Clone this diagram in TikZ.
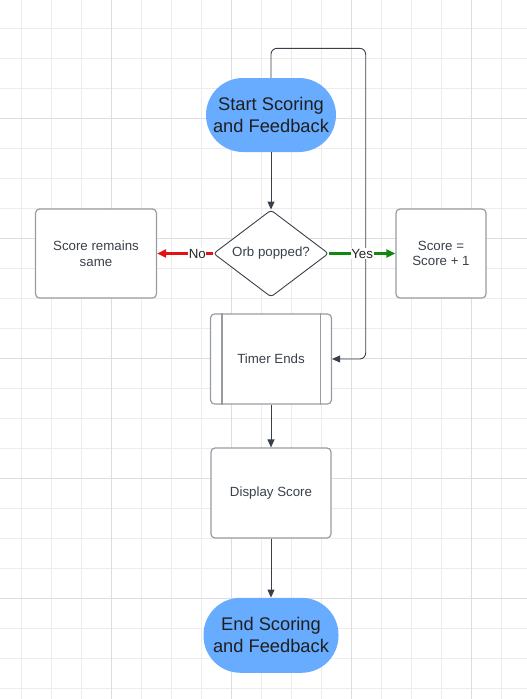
\documentclass[tikz,border=0pt]{standalone}
\usepackage{fontspec}
\setmainfont{Liberation Sans}
\usetikzlibrary{shapes.geometric,arrows.meta}
\definecolor{termblue}{RGB}{104,172,255}
\definecolor{inkgray}{RGB}{58,64,74}
\definecolor{edgegray}{RGB}{152,156,162}
\definecolor{gridlight}{RGB}{236,236,236}
\definecolor{griddark}{RGB}{222,222,222}
\definecolor{nored}{RGB}{226,18,18}
\definecolor{yesgreen}{RGB}{18,136,18}
\tikzset{
  term/.style={rectangle,rounded corners=37pt,fill=termblue,minimum width=130pt,
    minimum height=74pt,align=center,text=black!88,font=\fontsize{18.3}{22}\selectfont},
  box/.style={rectangle,rounded corners=4pt,draw=edgegray,line width=1.2pt,fill=white,
    minimum width=121pt,minimum height=89pt,align=center,text=inkgray,
    font=\fontsize{13.3}{15.5}\selectfont},
  decide/.style={diamond,aspect=1.32,inner sep=0pt,minimum width=115pt,minimum height=87pt,
    draw=inkgray,line width=0.9pt,rounded corners=3pt,fill=white,text=inkgray,
    font=\fontsize{13.3}{15.5}\selectfont},
  conn/.style={draw=inkgray,line width=0.9pt,-{Triangle[length=8pt,width=7pt]}},
  answer/.style={line width=2.2pt,-{Triangle[length=9pt,width=8pt]}},
  lbl/.style={fill=white,inner sep=0.6pt,text=black!85,font=\fontsize{13.3}{15.5}\selectfont}
}
\begin{document}
\begin{tikzpicture}[x=1pt,y=-1pt]
  \useasboundingbox (0,0) rectangle (527,699);
  \foreach \k in {0,...,17} \draw[gridlight,line width=1pt] (21.5+30*\k,0) -- (21.5+30*\k,699);
  \foreach \k in {-1,...,22} \draw[gridlight,line width=1pt] (0,28.3+30*\k) -- (527,28.3+30*\k);
  \foreach \k in {3,7,11,15} \draw[griddark,line width=1pt] (21.5+30*\k,0) -- (21.5+30*\k,699);
  \foreach \k in {3,7,11,15,19} \draw[griddark,line width=1pt] (0,28.3+30*\k) -- (527,28.3+30*\k);

  \node[term] (start) at (271,115) {Start Scoring\\and Feedback};
  \node[decide] (orb) at (271,253.5) {Orb popped?};
  \node[box] (same) at (96,253.5) {Score remains\\same};
  \node[box,minimum width=90pt] (plus) at (441,253.5) {Score =\\Score + 1};
  \node[box,minimum height=90pt] (timer) at (271,359) {Timer Ends};
  \draw[edgegray,line width=1.2pt] ([xshift=12pt]timer.north west) -- ([xshift=12pt]timer.south west);
  \draw[edgegray,line width=1.2pt] ([xshift=-12pt]timer.north east) -- ([xshift=-12pt]timer.south east);
  \node[box,minimum width=120pt,minimum height=90pt] (show) at (271,493) {Display Score};
  \node[term,minimum width=135pt,minimum height=75pt] (finish) at (271,635.3) {End Scoring\\and Feedback};

  \coordinate (loop) at (365.7,48.3);
  \draw[conn,rounded corners=6pt] (start.north) |- (loop) |- (timer.east);
  \draw[conn] (start) -- (orb);
  \draw[answer,draw=nored] (orb.west) -- (same.east);
  \draw[answer,draw=yesgreen] (orb.east) -- (plus.west);
  \path (orb.west) -- node[lbl,pos=0.28]{No} (same.east);
  \path (orb.east) -- node[lbl,pos=0.5]{Yes} (plus.west);
  \draw[conn] (timer) -- (show);
  \draw[conn] (show) -- (finish);
\end{tikzpicture}
\end{document}
